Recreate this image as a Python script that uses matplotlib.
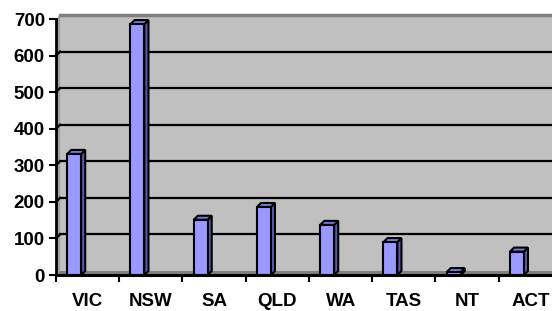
import matplotlib.pyplot as plt
from matplotlib.patches import Polygon

states = ['VIC', 'NSW', 'SA', 'QLD', 'WA', 'TAS', 'NT', 'ACT']
counts = [331, 686, 151, 186, 137, 90, 8, 64]
yticks = [0, 100, 200, 300, 400, 500, 600, 700]

plt.rcParams['font.family'] = ['Liberation Sans', 'DejaVu Sans']

fig = plt.figure(figsize=(5.52, 3.11), dpi=100)
ax = fig.add_axes([56 / 552, 36 / 311, 506 / 552, 256 / 311])
ax.set_xlim(0, len(states))
ax.set_ylim(0, 700)
ax.set_facecolor('none')

# 3d depth offsets (data units)
dx = 0.065
dy = 11
xmax = len(states)

# back wall, side wall and floor
ax.add_patch(Polygon([(dx, dy), (xmax + dx, dy), (xmax + dx, 700 + dy), (dx, 700 + dy)],
                     closed=True, facecolor='#C0C0C0', edgecolor='none', clip_on=False, zorder=0))
ax.add_patch(Polygon([(0, 0), (dx, dy), (dx, 700 + dy), (0, 700)],
                     closed=True, facecolor='#A0A0A0', edgecolor='none', clip_on=False, zorder=0))
ax.add_patch(Polygon([(0, 0), (xmax, 0), (xmax + dx, dy), (dx, dy)],
                     closed=True, facecolor='#808080', edgecolor='none', clip_on=False, zorder=0))
ax.plot([dx, xmax + dx], [700 + dy, 700 + dy], color='#808080', lw=2.5, clip_on=False, zorder=1)
for v in yticks[1:-1]:
    ax.plot([dx, xmax + dx], [v + dy, v + dy], color='black', lw=1.6, clip_on=False, zorder=1)
    ax.plot([0, dx], [v, v + dy], color='black', lw=1.6, clip_on=False, zorder=1)

# bars (Excel 3d look, set forward of the category centre)
w = 0.22
shift = -0.213
for i, c in enumerate(counts):
    x0 = i + 0.5 + shift - w / 2
    x1 = x0 + w
    ax.add_patch(Polygon([(x1, 0), (x1 + dx, dy), (x1 + dx, c + dy), (x1, c)],
                         closed=True, facecolor='#5A5AB4', edgecolor='black', lw=1.5, zorder=3))
    ax.add_patch(Polygon([(x0, c), (x1, c), (x1 + dx, c + dy), (x0 + dx, c + dy)],
                         closed=True, facecolor='#7C7CD8', edgecolor='black', lw=1.5, zorder=3))
    ax.bar(i + 0.5 + shift, c, width=w, color='#9999FF', edgecolor='black', lw=1.5, zorder=4)

for s in ['top', 'right']:
    ax.spines[s].set_visible(False)
ax.spines['left'].set_linewidth(2)
ax.spines['bottom'].set_linewidth(2.2)
ax.spines['left'].set_zorder(5)
ax.spines['bottom'].set_zorder(5)

ax.set_yticks(yticks)
ax.set_yticklabels([str(v) for v in yticks], fontsize=13.5, fontweight='bold')
ax.tick_params(axis='y', length=5, width=1.5, pad=3)

ax.set_xticks([i + 0.5 for i in range(len(states))])
ax.set_xticklabels(states, fontsize=13.5, fontweight='bold')
ax.tick_params(axis='x', length=0, pad=13)
ax.set_xticks(range(len(states) + 1), minor=True)
ax.tick_params(axis='x', which='minor', length=5, width=1.5)

fig.savefig('out.png', dpi=100)
